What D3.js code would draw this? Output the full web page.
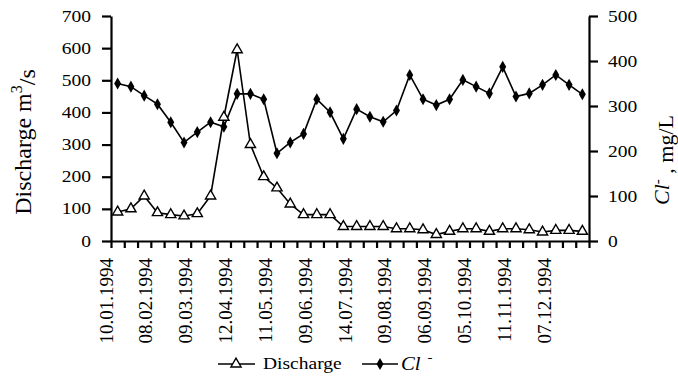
<!DOCTYPE html>
<html><head><meta charset="utf-8">
<script src="https://cdn.jsdelivr.net/npm/d3@7/dist/d3.min.js"></script>
<style>
html,body{margin:0;padding:0;background:#fff;}
svg{display:block;}
text{font-family:"Liberation Serif","Times New Roman",serif;fill:#000;}
</style></head>
<body>
<svg id="c" width="678" height="384"></svg>
<script>
const tickLabels = ["10.01.1994","08.02.1994","09.03.1994","12.04.1994","11.05.1994","09.06.1994","14.07.1994","09.08.1994","06.09.1994","05.10.1994","11.11.1994","07.12.1994"];
const categories = d3.range(36);
const discharge = [90,100,140,88,82,78,85,140,385,595,300,200,165,115,82,82,82,45,45,45,45,38,38,35,20,30,38,38,30,38,38,35,28,33,33,30];
const chloride = [350,343,323,304,264,219,242,264,254,327,327,315,195,219,238,315,286,227,293,276,265,290,369,315,302,315,358,343,328,387,321,328,347,369,347,326];
const leftTicks = [0,100,200,300,400,500,600,700];
const rightTicks = [0,100,200,300,400,500];

const svg = d3.select("#c");
const L = 111, R = 589, T = 16, B = 241;
const x = d3.scaleBand().domain(categories).range([L, R]);
const xb = d3.scaleLinear().domain([0, categories.length]).range([L, R]);
const yL = d3.scaleLinear().domain([0, 700]).range([B, T]);
const yR = d3.scaleLinear().domain([0, 500]).range([B, T]);
const cx = i => x(i) + x.bandwidth() / 2;

// axes
const axL = svg.append("g").attr("transform", `translate(${L},0)`)
  .call(d3.axisLeft(yL).tickValues(leftTicks).tickSize(9).tickSizeOuter(0).tickFormat(""));
const axR = svg.append("g").attr("transform", `translate(${R},0)`)
  .call(d3.axisRight(yR).tickValues(rightTicks).tickSize(9).tickSizeOuter(0).tickFormat(""));
const axB = svg.append("g").attr("transform", `translate(0,${B})`)
  .call(d3.axisBottom(xb).tickValues(d3.range(0, categories.length + 1)).tickSize(7).tickSizeOuter(0).tickFormat(""));
[axL, axR, axB].forEach(a => {
  a.selectAll("path,line").attr("stroke", "#000").attr("stroke-width", 2.2);
});

// tick labels
svg.append("g").selectAll("text").data(leftTicks).join("text")
  .attr("transform", d => `translate(91,${yL(d)}) scale(1.22,1)`)
  .attr("text-anchor", "end").attr("dy", "0.35em").style("font-size", "16px").text(d => d);
svg.append("g").selectAll("text").data(rightTicks).join("text")
  .attr("transform", d => `translate(608,${yR(d)}) scale(1.22,1)`)
  .attr("text-anchor", "start").attr("dy", "0.35em").style("font-size", "16px").text(d => d);

svg.append("g").selectAll("text").data(tickLabels).join("text")
  .attr("transform", (d, k) => `translate(${cx(k * 3) - 5},258) rotate(-90)`)
  .attr("text-anchor", "end").style("font-size", "19px").text(d => d);

// axis titles
const lt = svg.append("text").attr("transform", "translate(31,142) rotate(-90)")
  .attr("text-anchor", "middle").style("font-size", "24px");
lt.append("tspan").text("Discharge m");
lt.append("tspan").attr("dy", "-0.55em").style("font-size", "16px").text("3");
lt.append("tspan").attr("dy", "0.55em").text("/s");

const rt = svg.append("text").attr("transform", "translate(669,160) rotate(-90)")
  .attr("text-anchor", "middle").style("font-size", "22px");
rt.append("tspan").style("font-style", "italic").text("Cl");
rt.append("tspan").attr("dy", "-0.5em").style("font-size", "15px").text("-");
rt.append("tspan").attr("dy", "0.5em").text(" , mg/L");

// lines
const lineD = d3.line().x((d, i) => cx(i)).y(d => yL(d));
const lineC = d3.line().x((d, i) => cx(i)).y(d => yR(d));
svg.append("path").datum(discharge).attr("d", lineD).attr("fill", "none").attr("stroke", "#000").attr("stroke-width", 1.6);
svg.append("path").datum(chloride).attr("d", lineC).attr("fill", "none").attr("stroke", "#000").attr("stroke-width", 1.6);

const tri = d3.symbol().type(d3.symbolTriangle).size(45);
const dia = d3.symbol().type(d3.symbolDiamond).size(42);
svg.append("g").selectAll("path").data(discharge).join("path")
  .attr("d", tri).attr("transform", (d, i) => `translate(${cx(i)},${yL(d)})`)
  .attr("fill", "#fff").attr("stroke", "#000").attr("stroke-width", 1.4);
svg.append("g").selectAll("path").data(chloride).join("path")
  .attr("d", dia).attr("transform", (d, i) => `translate(${cx(i)},${yR(d)})`)
  .attr("fill", "#000");

// legend
const ly = 364;
const lg = svg.append("g");
lg.append("line").attr("x1", 218).attr("x2", 255).attr("y1", ly).attr("y2", ly).attr("stroke", "#000").attr("stroke-width", 1.6);
lg.append("path").attr("d", tri).attr("transform", `translate(236,${ly})`).attr("fill", "#fff").attr("stroke", "#000").attr("stroke-width", 1.4);
lg.append("text").attr("transform", `translate(263,${ly + 5}) scale(1.22,1)`).style("font-size", "16px").text("Discharge");
lg.append("line").attr("x1", 362).attr("x2", 398).attr("y1", ly).attr("y2", ly).attr("stroke", "#000").attr("stroke-width", 1.6);
lg.append("path").attr("d", dia).attr("transform", `translate(380,${ly})`).attr("fill", "#000");
const lc = lg.append("text").attr("transform", `translate(401,${ly + 6}) scale(1.15,1)`).style("font-size", "18px");
lc.append("tspan").style("font-style", "italic").text("Cl");
lc.append("tspan").attr("dx", "6").attr("dy", "-9").style("font-size", "13px").text("-");
</script>
</body></html>
